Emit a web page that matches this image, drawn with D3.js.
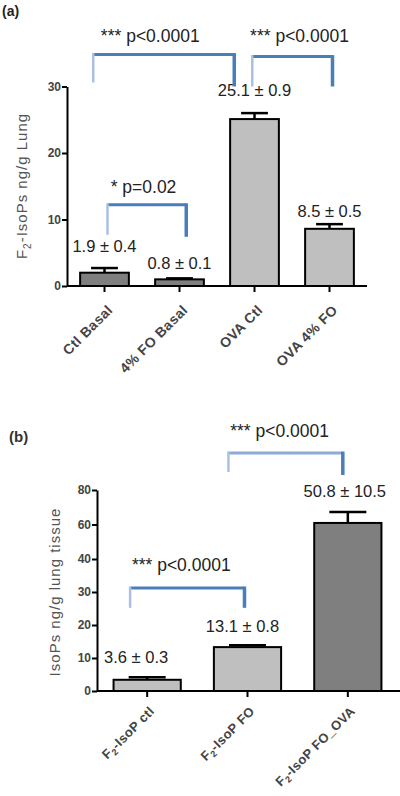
<!DOCTYPE html>
<html><head><meta charset="utf-8">
<script src="https://cdn.jsdelivr.net/npm/d3@7"></script>
<style>
html,body{margin:0;padding:0;background:#fff;}
svg{display:block;}
</style></head>
<body>
<svg id="c" width="400" height="796"></svg>
<script>
// ---------- Data: panel (a) ----------
const catsA = ["Ctl Basal", "4% FO Basal", "OVA Ctl", "OVA 4% FO"];
const valsA = [2.0, 1.0, 25.1, 8.6];
const errsA = [0.7, 0.15, 0.9, 0.7];
const labelsA = ["1.9 ± 0.4", "0.8 ± 0.1", "25.1 ± 0.9", "8.5 ± 0.5"];
const labelYA = [5.1, 2.6, 28.5, 10.4];
const colorsA = ["#7f7f7f", "#7f7f7f", "#bfbfbf", "#bfbfbf"];
const ticksA = [0, 10, 20, 30];
// brackets: left/right in category units, top and leg ends in value units
const bracketsA = [
  {l: -0.15, r: 1.73, top: 34.8, le: 30.6, re: 30.0, text: "*** p<0.0001", tx: 0.61, ty: 36.7},
  {l: 1.97, r: 3.04, top: 34.5, le: 30.0, re: 30.0, text: "*** p<0.0001", tx: 2.6, ty: 36.7},
  {l: 0.04, r: 1.09, top: 12.2, le: 7.7, re: 7.4, text: "* p=0.02", tx: 0.52, ty: 14.0}
];

// ---------- Data: panel (b) ----------
const catsB = ["ctl", "FO", "FO_OVA"];
const valsB = [3.4, 13.3, 60.9];
const errsB = [0.8, 0.6, 6.3];
const labelsB = ["3.6 ± 0.3", "13.1 ± 0.8", "50.8 ± 10.5"];
const labelYB = [8.5, 17.9, 76];
const labelXB = [-0.11, -0.05, -0.03];
const colorsB = ["#bfbfbf", "#bfbfbf", "#7f7f7f"];
const ticksB = [0, 10, 20, 30, 40, 60, 80];
const bracketsB = [
  {l: 0.81, r: 1.95, top: 101.4, le: 90.4, re: 88.7, text: "*** p<0.0001", tx: 1.32, ty: 110.7, light: true},
  {l: -0.17, r: 0.97, top: 31.2, le: 25.2, re: 25.2, text: "*** p<0.0001", tx: 0.34, ty: 36.4}
];

const svg = d3.select("#c");
const FONT = "'Liberation Sans', Arial, sans-serif";
const BLUE = "#4a7ebb", LIGHTBLUE = "#a9c0e3";

function panel(o) {
  const g = svg.append("g");
  const x = d3.scaleBand().domain(o.cats.map((d, i) => i)).range(o.xr).paddingInner(o.pad).paddingOuter(o.pad / 2);
  const xi = d3.scaleLinear().domain([0, 1]).range([x(0) + x.bandwidth() / 2, x(1) + x.bandwidth() / 2]);
  const y = o.y;

  // bars
  g.selectAll("rect.bar").data(o.vals).join("rect")
    .attr("x", (d, i) => x(i)).attr("width", x.bandwidth())
    .attr("y", d => y(d)).attr("height", d => y(0) - y(d))
    .attr("fill", (d, i) => o.colors[i]).attr("stroke", "#000").attr("stroke-width", 2);

  // error bars
  const cw = x.bandwidth() * 0.55;
  o.vals.forEach((v, i) => {
    const cx = xi(i);
    g.append("line").attr("x1", cx).attr("x2", cx).attr("y1", y(v)).attr("y2", y(v + o.errs[i]))
      .attr("stroke", "#000").attr("stroke-width", 2.5);
    g.append("line").attr("x1", cx - cw / 2).attr("x2", cx + cw / 2).attr("y1", y(v + o.errs[i])).attr("y2", y(v + o.errs[i]))
      .attr("stroke", "#000").attr("stroke-width", 2.5);
  });

  // axes
  const ya = g.append("g").attr("transform", `translate(${o.xr[0]},0)`)
    .call(d3.axisLeft(y).tickValues(o.ticks).tickSize(5).tickPadding(1).tickSizeOuter(0));
  ya.select(".domain").attr("stroke-width", 2);
  ya.selectAll(".tick line").attr("stroke-width", 2);
  ya.selectAll(".tick text").attr("font-family", FONT).attr("font-size", 12).attr("font-weight", "bold").attr("fill", "#444");

  const xa = g.append("g").attr("transform", `translate(0,${y(0)})`)
    .call(d3.axisBottom(x).tickSize(6).tickSizeOuter(0).tickFormat(""));
  xa.select(".domain").attr("stroke-width", 2).attr("d", `M${o.xr[0]},0H${o.xEnd}`);
  xa.selectAll(".tick line").attr("stroke-width", 2);

  // x labels rotated
  o.cats.forEach((c, i) => {
    const t = g.append("text")
      .attr("transform", `translate(${xi(i) + o.lx},${y(0) + o.ly}) rotate(-45)`)
      .attr("text-anchor", "end").attr("font-family", FONT).attr("font-size", o.lfs)
      .attr("font-weight", "bold").attr("letter-spacing", 0.4).attr("fill", "#444");
    o.xlab(t, c);
  });

  // y title
  const yt = g.append("text")
    .attr("transform", `translate(${o.ytX},${o.ytY}) rotate(-90)`)
    .attr("text-anchor", "middle").attr("font-family", FONT).attr("font-size", 15)
    .attr("letter-spacing", 1).attr("fill", "#555");
  o.ytitle(yt);

  // value labels
  o.labels.forEach((s, i) => {
    g.append("text").attr("x", xi(i + (o.labelX ? o.labelX[i] : 0))).attr("y", y(o.labelY[i]))
      .attr("text-anchor", "middle").attr("font-family", FONT).attr("font-size", 16.5)
      .attr("fill", "#222").text(s);
  });

  // brackets
  o.brackets.forEach(b => {
    const top = y(b.top);
    const main = b.light ? "#8eaadb" : BLUE;
    g.append("line").attr("x1", xi(b.l)).attr("x2", xi(b.r)).attr("y1", top).attr("y2", top)
      .attr("stroke", main).attr("stroke-width", 3);
    g.append("line").attr("x1", xi(b.l)).attr("x2", xi(b.l)).attr("y1", top - 1.5).attr("y2", y(b.le))
      .attr("stroke", LIGHTBLUE).attr("stroke-width", 2.5);
    g.append("line").attr("x1", xi(b.r)).attr("x2", xi(b.r)).attr("y1", top - 1.5).attr("y2", y(b.re))
      .attr("stroke", BLUE).attr("stroke-width", 3.5);
    g.append("text").attr("x", xi(b.tx)).attr("y", y(b.ty)).attr("text-anchor", "middle")
      .attr("font-family", FONT).attr("font-size", 17.5).attr("fill", "#222").text(b.text);
  });
}

// Panel (a)
panel({
  cats: catsA, vals: valsA, errs: errsA, labels: labelsA, labelY: labelYA, colors: colorsA,
  ticks: ticksA, brackets: bracketsA, pad: 0.35, xr: [67, 367], xEnd: 367,
  y: d3.scaleLinear().domain([0, 30]).range([286, 86.5]),
  ytX: 27, ytY: 186, lx: 9, ly: 25, lfs: 14,
  ytitle: t => { t.append("tspan").text("F"); t.append("tspan").attr("font-size", 10).attr("dy", 4).text("2");
                 t.append("tspan").attr("dy", -4).text("-IsoPs ng/g Lung"); },
  xlab: (t, c) => t.text(c)
});

// Panel (b)
panel({
  cats: catsB, vals: valsB, errs: errsB, labels: labelsB, labelY: labelYB, labelX: labelXB, colors: colorsB,
  ticks: ticksB, brackets: bracketsB, pad: 0.33, xr: [97, 398], xEnd: 400,
  y: d3.scaleLinear().domain([0, 40, 80]).range([691, 559, 490]),
  ytX: 60, ytY: 592, lx: 8, ly: 21, lfs: 13,
  ytitle: t => t.text("IsoPs ng/g lung tissue"),
  xlab: (t, c) => { t.append("tspan").text("F"); t.append("tspan").attr("font-size", 9).attr("dy", 3).text("2");
                    t.append("tspan").attr("dy", -3).text("-IsoP " + c); }
});

// panel letters
svg.append("text").attr("x", 2).attr("y", 16).attr("font-family", FONT).attr("font-size", 14)
  .attr("font-weight", "bold").attr("fill", "#222").text("(a)");
svg.append("text").attr("x", 9).attr("y", 442).attr("font-family", FONT).attr("font-size", 15)
  .attr("font-weight", "bold").attr("fill", "#333").text("(b)");
</script>
</body></html>
